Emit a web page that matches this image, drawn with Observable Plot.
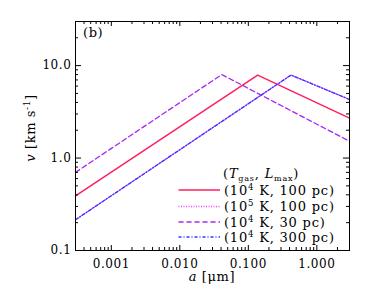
<!DOCTYPE html>
<html><head><meta charset="utf-8">
<script src="https://cdn.jsdelivr.net/npm/d3@7"></script>
<script src="https://cdn.jsdelivr.net/npm/@observablehq/plot@0.6"></script>
<style>body{margin:0;background:#fff} #chart{position:relative;width:374px;height:295px}</style>
</head><body><div id="chart"></div>
<script>
// Grain size a [μm] and velocity v [km/s] for each model (start, peak, end)
const aRed = [0.0003, 0.137, 3];      const vRed = [0.39, 7.9, 2.7];      // (1e4 K, 100 pc)
const aDot = [0.0003, 0.42, 3];       const vDot = [0.215, 7.9, 4.3];     // (1e5 K, 100 pc)
const aDash = [0.0003, 0.041, 3];     const vDash = [0.70, 8.0, 1.52];    // (1e4 K, 30 pc)
const aDD = [0.0003, 0.42, 3];        const vDD = [0.215, 7.9, 4.3];      // (1e4 K, 300 pc)

const legendPow = ["4", "5", "4", "4"];
const legendRest = [" K, 100 pc)", " K, 100 pc)", " K, 30 pc)", " K, 300 pc)"];
const colors = ["#ff1f5c", "#ff44ff", "#a526f5", "#2b3cff"];
const dashes = [null, "1,1.5", "5,3", "3,2,1,2"];

const xMajor = [0.001, 0.01, 0.1, 1];
const yMajor = [0.1, 1, 10];
const xMinor = [], yMinor = [];
for (const d of [1e-4, 1e-3, 1e-2, 1e-1, 1]) for (let k = 2; k <= 9; k++) { const t = d * k; if (t >= 0.0003 && t <= 3) xMinor.push(t); }
for (const d of [0.1, 1, 10]) for (let k = 2; k <= 9; k++) { const t = d * k; if (t <= 30) yMinor.push(t); }

const toRows = (a, v) => a.map((x, i) => ({a: x, v: v[i]}));
const sets = [toRows(aRed, vRed), toRows(aDot, vDot), toRows(aDash, vDash), toRows(aDD, vDD)];

const W = 374, H = 295, mL = 75, mR = 25, mT = 21, mB = 45;
const iw = W - mL - mR, ih = H - mT - mB;
const tickMarks = [
  Plot.ruleX(xMajor, {x: d => d, insetTop: ih - 5, stroke: "#000"}),
  Plot.ruleX(xMinor, {x: d => d, insetTop: ih - 3, stroke: "#000"}),
  Plot.ruleX(xMajor, {x: d => d, insetBottom: ih - 5, stroke: "#000"}),
  Plot.ruleX(xMinor, {x: d => d, insetBottom: ih - 3, stroke: "#000"}),
  Plot.ruleY(yMajor, {y: d => d, insetRight: iw - 6, stroke: "#000"}),
  Plot.ruleY(yMinor, {y: d => d, insetRight: iw - 3, stroke: "#000"}),
  Plot.ruleY(yMajor, {y: d => d, insetLeft: iw - 6, stroke: "#000"}),
  Plot.ruleY(yMinor, {y: d => d, insetLeft: iw - 3, stroke: "#000"})
];

const plot = Plot.plot({
  width: W, height: H,
  marginLeft: mL, marginRight: mR, marginTop: mT, marginBottom: mB,
  x: {type: "log", domain: [0.0003, 3]},
  y: {type: "log", domain: [0.1, 30]},
  style: {fontFamily: "DejaVu Serif", fontSize: "12px", letterSpacing: "0.6px", color: "#000", background: "#fff", overflow: "visible"},
  marks: [
    ...sets.map((d, i) => Plot.line(d, {x: "a", y: "v", stroke: colors[i], strokeWidth: i === 0 ? 1.5 : 1.3, strokeDasharray: dashes[i]})),
    ...tickMarks,
    Plot.frame({stroke: "#000", strokeWidth: 1}),
    Plot.axisX(xMajor, {anchor: "bottom", tickSize: 0, tickPadding: 9, tickFormat: d => d.toFixed(3), label: null}),
    Plot.axisY(yMajor, {anchor: "left", tickSize: 0, tickPadding: 4, tickFormat: d => d.toFixed(1), label: null})
  ]
});
document.getElementById("chart").appendChild(plot);

const svg = d3.select(plot);
const ff = "DejaVu Serif";
// panel label
svg.append("text").attr("x", 83).attr("y", 37).attr("text-anchor", "start").attr("font-family", ff).attr("font-size", 13).text("(b)");
// x title
const xt = svg.append("text").attr("x", 212).attr("y", 281).attr("text-anchor", "middle").attr("font-family", ff).attr("font-size", 13);
xt.append("tspan").attr("font-style", "italic").text("a");
xt.append("tspan").text(" [μm]");
// y title
const yt = svg.append("text").attr("transform", "translate(35,128) rotate(-90)").attr("text-anchor", "middle").attr("font-family", ff).attr("font-size", 13);
yt.append("tspan").attr("font-style", "italic").text("v");
yt.append("tspan").text(" [km s");
yt.append("tspan").attr("font-size", 9).attr("dy", -5).text("-1");
yt.append("tspan").attr("dy", 5).text("]");

// legend
const lg = svg.append("g").attr("font-family", ff).attr("font-size", 13).attr("letter-spacing", "0.8px").attr("text-anchor", "start");
const hd = lg.append("text").attr("x", 223).attr("y", 178);
hd.append("tspan").text("(");
hd.append("tspan").attr("font-style", "italic").text("T");
hd.append("tspan").attr("font-size", 8).attr("dy", 3).text("gas");
hd.append("tspan").attr("dy", -3).text(", ");
hd.append("tspan").attr("font-style", "italic").text("L");
hd.append("tspan").attr("font-size", 8).attr("dy", 3).text("max");
hd.append("tspan").attr("dy", -3).text(")");
const rowY = [190, 206.5, 222, 237];
rowY.forEach((y, i) => {
  lg.append("line").attr("x1", 178.5).attr("x2", 220).attr("y1", y).attr("y2", y)
    .attr("stroke", colors[i]).attr("stroke-width", i === 0 ? 1.5 : 1.3).attr("stroke-dasharray", dashes[i]);
  const t = lg.append("text").attr("x", 224).attr("y", y + 4.5);
  t.append("tspan").text("(10");
  t.append("tspan").attr("font-size", 8.5).attr("dy", -5).text(legendPow[i]);
  t.append("tspan").attr("dy", 5).text(legendRest[i]);
});
</script>
</body></html>
